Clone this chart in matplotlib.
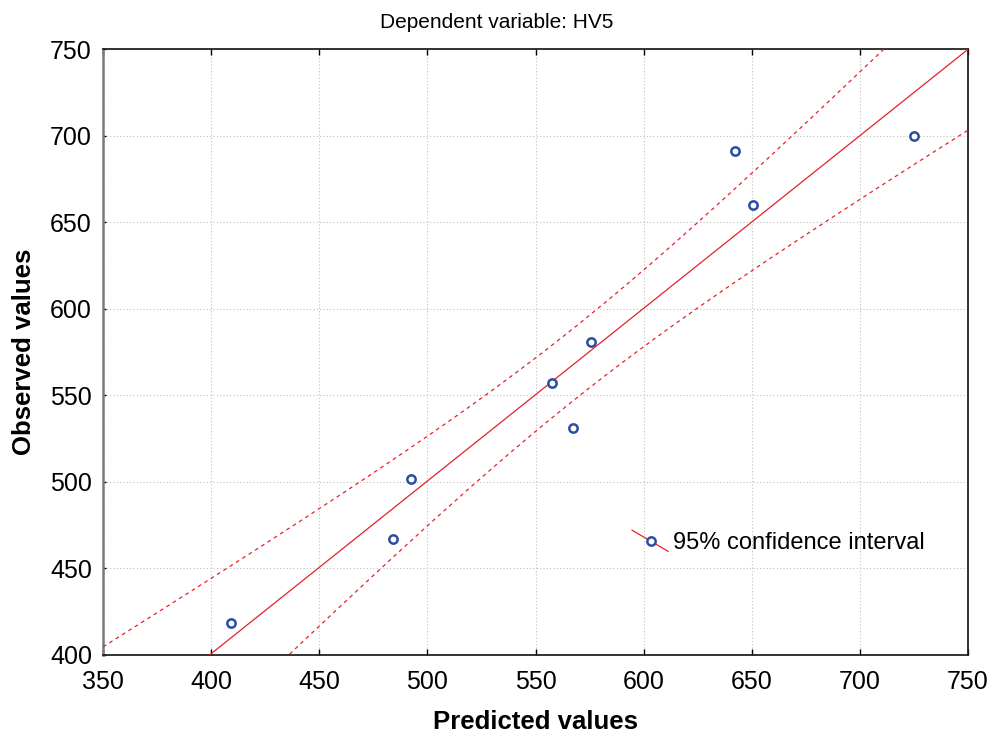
import numpy as np
import matplotlib
matplotlib.use("Agg")
import matplotlib.pyplot as plt
from matplotlib.lines import Line2D
from matplotlib.legend_handler import HandlerBase

plt.rcParams['font.family'] = ['Liberation Sans', 'DejaVu Sans']

# ---- data ----
predicted = [409.3, 484.3, 492.6, 557.5, 567.3, 575.8, 642.1, 650.6, 724.9]
observed = [418.5, 467.0, 501.7, 557.3, 531.3, 580.8, 691.0, 659.8, 699.7]
x_ticks = [350, 400, 450, 500, 550, 600, 650, 700, 750]
y_ticks = [400, 450, 500, 550, 600, 650, 700, 750]
t_crit = 2.364624  # t(0.975, df=7)
title = "Dependent variable: HV5"
xlabel = "Predicted values"
ylabel = "Observed values"
legend_label = "95% confidence interval"

RED = '#e8202a'
BLUE = '#2b4ea2'

x = np.array(predicted)
y = np.array(observed)
n = len(x)
slope, intercept = np.polyfit(x, y, 1)
resid = y - (slope * x + intercept)
s = np.sqrt(np.sum(resid ** 2) / (n - 2))
sxx = np.sum((x - x.mean()) ** 2)
xg = np.linspace(x_ticks[0], x_ticks[-1], 400)
yg = slope * xg + intercept
half = t_crit * s * np.sqrt(1.0 / n + (xg - x.mean()) ** 2 / sxx)

fig = plt.figure(figsize=(9.93, 7.36), dpi=100)
ax = fig.add_axes([103 / 993, 81 / 736, 865 / 993, 606 / 736])

ax.plot(xg, yg, color=RED, lw=0.9, zorder=3)
ax.plot(xg, yg + half, color=RED, lw=0.9, ls=(0, (3, 3)), zorder=3)
ax.plot(xg, yg - half, color=RED, lw=0.9, ls=(0, (3, 3)), zorder=3)
ax.plot(x, y, ls='none', marker='o', ms=6.0, mew=1.8, mfc='white', mec=BLUE, zorder=4)

ax.set_xlim(x_ticks[0], x_ticks[-1])
ax.set_ylim(y_ticks[0], y_ticks[-1])
ax.set_xticks(x_ticks)
ax.set_yticks(y_ticks)
ax.grid(True, color='#c0c0c0', ls=(0, (1, 2)), lw=0.8)
ax.set_axisbelow(True)

ax.tick_params(axis='x', direction='in', length=4, width=1, top=True, labelsize=18, pad=11)
ax.tick_params(axis='y', direction='in', length=2.5, width=1, labelsize=18, pad=8)

for side in ['top', 'right', 'bottom']:
    ax.spines[side].set_color('#222222')
    ax.spines[side].set_linewidth(1.3)
ax.spines['left'].set_color('#7a7a7a')
ax.spines['left'].set_linewidth(1.8)

ax.set_xlabel(xlabel, fontsize=18.5, fontweight='bold', labelpad=11)
ax.set_ylabel(ylabel, fontsize=18.5, fontweight='bold', labelpad=10)
fig.text(0.5, 1 - 28 / 736, title, ha='center', va='baseline', fontsize=15)


class DiagHandler(HandlerBase):
    def create_artists(self, legend, orig_handle, xdescent, ydescent, width, height, fontsize, trans):
        cy = height / 2 - ydescent
        dy = 7.6
        line = Line2D([-xdescent, -xdescent + width], [cy + dy, cy - dy],
                      color=RED, lw=0.9, transform=trans)
        mk = Line2D([-xdescent + width * 0.53], [cy], ls='none', marker='o', ms=6.0, mew=1.8,
                    mfc='white', mec=BLUE, transform=trans)
        return [line, mk]


handle = Line2D([], [], color=RED)
leg = ax.legend([handle], [legend_label], handler_map={Line2D: DiagHandler()},
                loc='center left', bbox_to_anchor=((632 - 103) / 865, (655 - 543) / 606),
                frameon=False, fontsize=17, handlelength=1.53, handletextpad=0.22,
                borderpad=0, borderaxespad=0)

fig.savefig('out.png', dpi=100)
